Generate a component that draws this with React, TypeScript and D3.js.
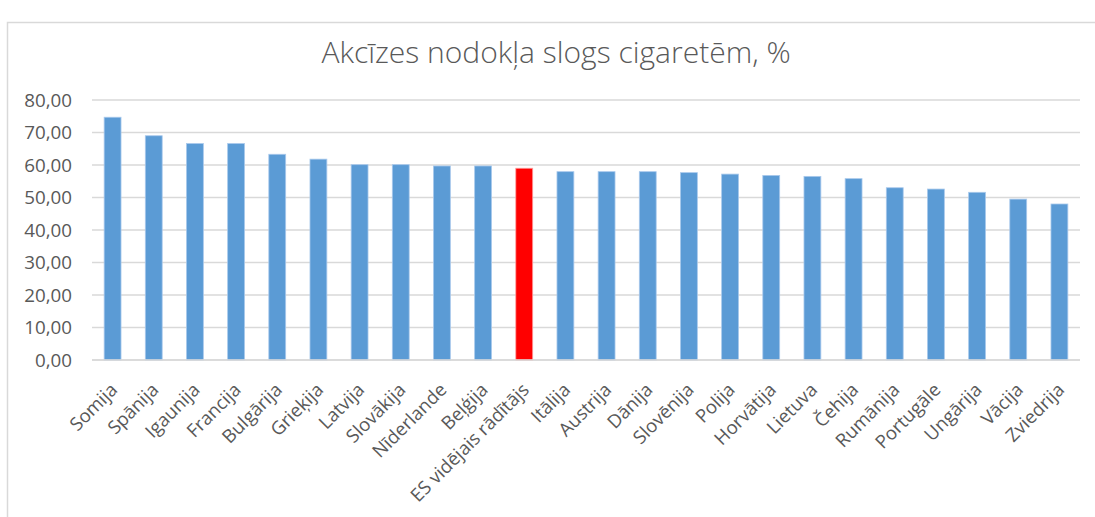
import React, { useEffect, useRef } from "react";
import * as d3 from "d3";

const categories = [
  "Somija", "Spānija", "Igaunija", "Francija", "Bulgārija", "Grieķija", "Latvija", "Slovākija",
  "Nīderlande", "Beļģija", "ES vidējais rādītājs", "Itālija", "Austrija", "Dānija", "Slovēnija",
  "Polija", "Horvātija", "Lietuva", "Čehija", "Rumānija", "Portugāle", "Ungārija", "Vācija", "Zviedrija",
];
const values = [
  74.7, 69.0, 66.6, 66.6, 63.3, 61.8, 60.1, 60.1, 59.7, 59.7, 59.0, 57.95, 57.95, 57.95, 57.65,
  57.2, 56.8, 56.5, 55.8, 53.0, 52.6, 51.6, 49.5, 48.0,
];
const highlight = "ES vidējais rādītājs";
const yTicks = [0, 10, 20, 30, 40, 50, 60, 70, 80];
const title = "Akcīzes nodokļa slogs cigaretēm, %";

const W = 1095;
const H = 517;
const FONT = "'Open Sans', 'Noto Sans', sans-serif";

export default function App() {
  const ref = useRef<SVGSVGElement>(null);
  useEffect(() => {
    const svg = d3.select(ref.current);
    svg.selectAll("*").remove();

    const x = d3.scaleBand<string>().domain(categories).range([92, 1080]).paddingInner(0.59).paddingOuter(0.295);
    const y = d3.scaleLinear().domain([0, 80]).range([360, 100]);

    svg.append("rect").attr("x", 0).attr("y", 0).attr("width", W).attr("height", H).attr("fill", "#fff");
    svg.append("rect").attr("x", 7.5).attr("y", 22.5).attr("width", 1100).attr("height", 520)
      .attr("fill", "none").attr("stroke", "#d9d9d9").attr("stroke-width", 1.5);

    svg.append("text").attr("x", 556).attr("y", 63).attr("text-anchor", "middle")
      .attr("font-family", FONT).attr("font-size", 30).attr("font-weight", 300).attr("fill", "#595959")
      .text(title);

    const grid = svg.append("g");
    yTicks.forEach((t) => {
      grid.append("line").attr("x1", 92).attr("x2", 1080).attr("y1", y(t)).attr("y2", y(t))
        .attr("stroke", "#d9d9d9").attr("stroke-width", 1.3);
      grid.append("text").attr("x", 72).attr("y", y(t)).attr("dy", "0.36em").attr("text-anchor", "end")
        .attr("font-family", FONT).attr("font-size", 18.8).attr("fill", "#595959")
        .text(d3.format(".2f")(t).replace(".", ","));
    });

    svg.append("g").selectAll("rect").data(categories).join("rect")
      .attr("x", (d) => x(d)!)
      .attr("width", x.bandwidth())
      .attr("y", (d, i) => y(values[i]))
      .attr("height", (d, i) => y(0) - y(values[i]))
      .attr("fill", (d) => (d === highlight ? "#ff0000" : "#5b9bd5"))
      .attr("stroke", (d) => (d === highlight ? "#ff9a9a" : "#a9c9ec"))
      .attr("stroke-width", 0.8);

    svg.append("line").attr("x1", 92).attr("x2", 1080).attr("y1", y(0)).attr("y2", y(0))
      .attr("stroke", "#d9d9d9").attr("stroke-width", 1.5);

    svg.append("g").selectAll("text").data(categories).join("text")
      .attr("transform", (d) => `translate(${x(d)! + x.bandwidth() / 2 + 6},${y(0) + 31}) rotate(-45)`)
      .attr("text-anchor", "end")
      .attr("font-family", FONT).attr("font-size", 18.5).attr("fill", "#595959")
      .text((d) => d);
  }, []);
  return (
    <svg ref={ref} width={W} height={H} style={{ position: "absolute", left: 0, top: 0, display: "block" }} />
  );
}
